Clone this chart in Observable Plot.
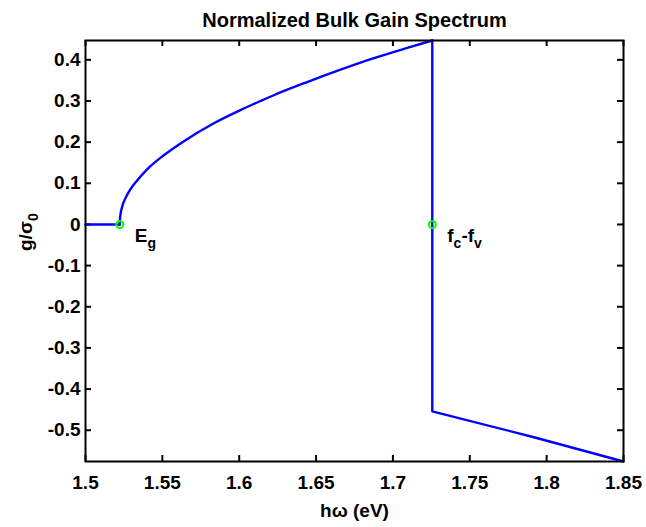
<!DOCTYPE html>
<html><head><meta charset="utf-8">
<script src="https://cdn.jsdelivr.net/npm/d3@7"></script>
<script src="https://cdn.jsdelivr.net/npm/@observablehq/plot@0.6"></script>
<style>body{margin:0;background:#fff} svg{display:block}</style>
</head><body><div id="chart"></div>
<script>
// ---- data ----
const title = "Normalized Bulk Gain Spectrum";
const xLabel = "hω (eV)";
const yLabel = "g/σ0";
const xTicks = [1.5, 1.55, 1.6, 1.65, 1.7, 1.75, 1.8, 1.85];
const yTicks = [-0.5, -0.4, -0.3, -0.2, -0.1, 0, 0.1, 0.2, 0.3, 0.4];
const xDomain = [1.5, 1.85];
const yDomain = [-0.576, 0.447];

// below the band gap: zero gain
const flatEnergy = [1.5, 1.5223];
const flatGain = [0, 0];
// gain branch (above Eg, below fc-fv)
const riseEnergy = [1.5223, 1.5224, 1.5228, 1.5239, 1.5260, 1.5293, 1.5336, 1.5401, 1.5509, 1.5618, 1.5835, 1.6008, 1.6139, 1.6225, 1.6442, 1.6659, 1.6876, 1.7093, 1.7256];
const riseGain   = [0, 0.011, 0.025, 0.044, 0.064, 0.086, 0.107, 0.134, 0.168, 0.197, 0.246, 0.278, 0.300, 0.314, 0.346, 0.376, 0.404, 0.429, 0.447];
// absorption branch (drop at fc-fv, then negative)
const fallEnergy = [1.7256, 1.7256, 1.7917, 1.85];
const fallGain   = [0.447, -0.454, -0.517, -0.576];
// marked points
const markerNames = ["Eg", "fc-fv"];
const markerEnergy = [1.5223, 1.7256];
const markerGain = [0, 0];

// ---- layout ----
const W = 646, H = 527, mL = 85, mR = 23, mT = 40, mB = 66;
const plotW = W - mL - mR, plotH = H - mT - mB;
const font = "'Liberation Sans', Arial, Helvetica, sans-serif";
const blue = "#0000ff";

const toRows = (xs, ys) => xs.map((x, i) => ({x, y: ys[i]}));
const flat = toRows(flatEnergy, flatGain);
const rise = toRows(riseEnergy, riseGain);
const fall = toRows(fallEnergy, fallGain);
const markers = markerNames.map((name, i) => ({name, x: markerEnergy[i], y: markerGain[i]}));

const chart = Plot.plot({
  width: W, height: H,
  marginLeft: mL, marginRight: mR, marginTop: mT, marginBottom: mB,
  style: {fontFamily: font, fontSize: "19px", fontWeight: "bold", color: "black", background: "white", overflow: "visible"},
  x: {domain: xDomain, label: null, ticks: xTicks, tickFormat: d => String(d), tickSize: 0, tickPadding: 14},
  y: {domain: yDomain, label: null, ticks: yTicks, tickFormat: d => String(d), tickSize: 0, tickPadding: 5},
  marks: [
    Plot.tickX(xTicks, {x: d => d, insetTop: plotH - 6, stroke: "black", strokeWidth: 2}),
    Plot.tickX(xTicks, {x: d => d, insetBottom: plotH - 6, stroke: "black", strokeWidth: 2}),
    Plot.tickY(yTicks, {y: d => d, insetRight: plotW - 6, stroke: "black", strokeWidth: 2}),
    Plot.tickY(yTicks, {y: d => d, insetLeft: plotW - 6, stroke: "black", strokeWidth: 2}),
    Plot.line(flat, {x: "x", y: "y", stroke: blue, strokeWidth: 2.4}),
    Plot.line(rise, {x: "x", y: "y", stroke: blue, strokeWidth: 2.4, curve: "monotone-x"}),
    Plot.line(fall, {x: "x", y: "y", stroke: blue, strokeWidth: 2.4}),
    Plot.frame({stroke: "black", strokeWidth: 2}),
    Plot.dot(markers, {x: "x", y: "y", r: 3.5, stroke: "#00ff00", strokeWidth: 2, fill: "none"}),
    Plot.text(markers, {x: "x", y: "y", text: "name", dx: 15, dy: 18, textAnchor: "start", lineAnchor: "bottom", fontSize: 19, fill: "black"}),
    Plot.text([title], {frameAnchor: "top", dy: -14, lineAnchor: "bottom", fontSize: 20, fill: "black"}),
    Plot.text([xLabel], {frameAnchor: "bottom", dy: 55, lineAnchor: "bottom", fontSize: 19, fill: "black"}),
    Plot.text([yLabel], {frameAnchor: "left", dx: -54, rotate: -90, lineAnchor: "bottom", fontSize: 19, fill: "black"})
  ]
});
document.getElementById("chart").appendChild(chart);

// subscripts: split annotated strings into tspans
const subs = {
  "Eg": [["E", 0], ["g", 1]],
  "fc-fv": [["f", 0], ["c", 1], ["-f", 0], ["v", 1]],
  "g/σ0": [["g/σ", 0], ["0", 1]]
};
d3.select(chart).selectAll("text").each(function() {
  const t = this.textContent;
  if (!subs[t]) return;
  const el = d3.select(this);
  el.text(null);
  let level = 0;
  for (const [s, sub] of subs[t]) {
    const span = el.append("tspan").text(s);
    if (sub !== level) span.attr("dy", sub ? 6 : -6);
    if (sub) span.attr("font-size", 14);
    level = sub;
  }
});
</script></body></html>
